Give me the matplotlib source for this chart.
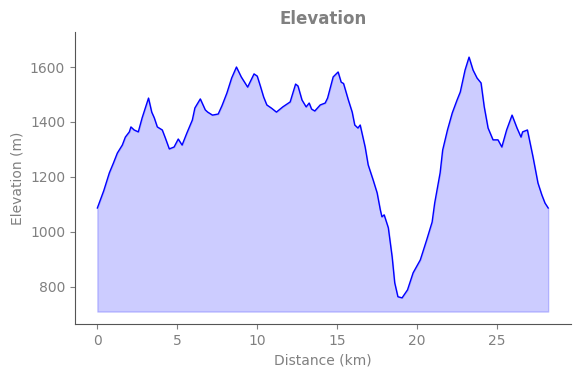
import matplotlib
matplotlib.use('Agg')
import matplotlib.pyplot as plt

# distance (km) and elevation (m)
distance = [0.0, 0.4, 0.75, 1.0, 1.25, 1.56, 1.75, 2.0, 2.1, 2.3, 2.56, 2.8, 3.0, 3.2,
            3.4, 3.56, 3.75, 4.06, 4.25, 4.5, 4.8, 5.06, 5.3, 5.6, 5.94, 6.1, 6.44,
            6.75, 6.9, 7.2, 7.56, 7.8, 8.1, 8.4, 8.7, 9.0, 9.4, 9.8, 10.0, 10.2, 10.4,
            10.6, 10.9, 11.2, 11.6, 12.06, 12.4, 12.55, 12.8, 13.06, 13.25, 13.4, 13.6,
            13.94, 14.25, 14.4, 14.75, 15.06, 15.25, 15.4, 15.7, 15.94, 16.1, 16.3,
            16.44, 16.75, 16.94, 17.25, 17.5, 17.7, 17.8, 17.94, 18.2, 18.44, 18.6,
            18.8, 19.06, 19.4, 19.75, 20.2, 20.6, 20.94, 21.1, 21.44, 21.6, 21.9, 22.2,
            22.5, 22.7, 23.0, 23.25, 23.5, 23.75, 24.0, 24.2, 24.44, 24.75, 25.06, 25.3,
            25.6, 25.94, 26.25, 26.5, 26.6, 26.9, 27.25, 27.56, 27.8, 28.0, 28.2]
elevation = [1087, 1150, 1215, 1250, 1287, 1316, 1345, 1364, 1382, 1371, 1364, 1415, 1451, 1487,
             1436, 1415, 1382, 1371, 1342, 1302, 1309, 1338, 1316, 1360, 1407, 1451, 1484,
             1444, 1436, 1425, 1429, 1460, 1505, 1560, 1600, 1564, 1527, 1575, 1567, 1530, 1491,
             1462, 1450, 1436, 1455, 1473, 1538, 1531, 1480, 1455, 1469, 1447, 1440,
             1462, 1469, 1487, 1564, 1582, 1545, 1540, 1480, 1436, 1389, 1378,
             1389, 1309, 1244, 1189, 1142, 1080, 1055, 1062, 1015, 909, 815,
             764, 760, 789, 851, 898, 971, 1036, 1105, 1215, 1298, 1371, 1433,
             1480, 1509, 1589, 1636, 1589, 1560, 1542, 1455, 1378, 1335, 1335, 1309,
             1371, 1425, 1378, 1345, 1364, 1371, 1273, 1178, 1135, 1105, 1087]
base = 710

fig = plt.figure(figsize=(5.8, 3.78), dpi=100)
ax = fig.add_axes([0.129, 0.143, 0.855, 0.772])

ax.plot(distance, elevation, color='blue', linewidth=1)
ax.fill_between(distance, elevation, base, color='blue', alpha=0.2)

ax.set_ylim(665, 1727)
ax.set_title('Elevation', color='gray', fontweight='bold', fontsize=12)
ax.set_xlabel('Distance (km)', color='gray')
ax.set_ylabel('Elevation (m)', color='gray')

ax.spines['top'].set_visible(False)
ax.spines['right'].set_visible(False)
ax.spines['left'].set_color('#555555')
ax.spines['bottom'].set_color('#555555')
ax.tick_params(colors='gray')

plt.savefig('out.png')
